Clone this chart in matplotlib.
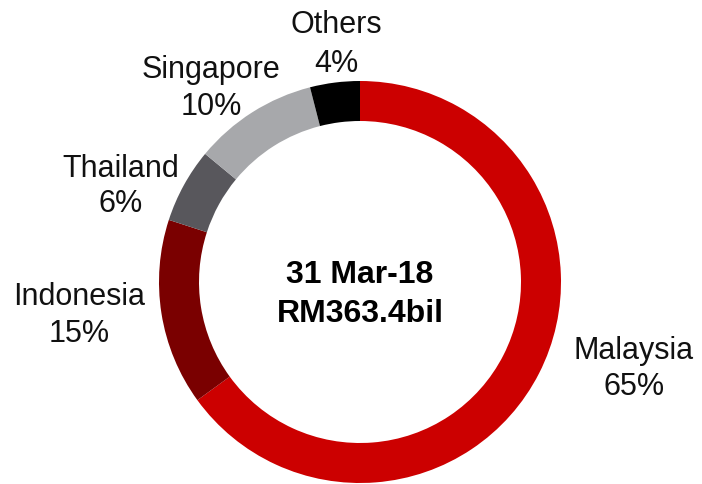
import matplotlib
matplotlib.use("Agg")
import matplotlib.pyplot as plt

countries = ["Malaysia", "Indonesia", "Thailand", "Singapore", "Others"]
shares = [65, 15, 6, 10, 4]
colors = ["#CC0000", "#7A0000", "#58575C", "#A7A8AB", "#000000"]
center_lines = ["31 Mar-18", "RM363.4bil"]

W, H = 702, 485
fig = plt.figure(figsize=(W / 100, H / 100), dpi=100)
ax = fig.add_axes([0, 0, 1, 1])
ax.set_xlim(0, W)
ax.set_ylim(H, 0)
ax.set_aspect("equal")
ax.axis("off")

cx, cy, R = 360, 283, 201
ax.pie(shares, colors=colors, startangle=-90, counterclock=True,
       center=(cx, cy), radius=R, frame=True,
       wedgeprops=dict(width=40, edgecolor="none"))
ax.set_xlim(0, W)
ax.set_ylim(H, 0)
ax.axis("off")

# label positions (pixel): name baseline, pct baseline, x center
label_pos = {
    "Others": (336, 33, 72),
    "Singapore": (211, 78, 115),
    "Thailand": (121, 177, 212),
    "Indonesia": (79, 305, 342),
    "Malaysia": (634, 359, 395),
}
font = ["Liberation Sans", "DejaVu Sans"]
for name, pct in zip(countries, shares):
    x, yb1, yb2 = label_pos[name]
    ax.text(x, yb1, name, ha="center", va="baseline", fontsize=22,
            family=font, color="#111111")
    ax.text(x, yb2, f"{pct}%", ha="center", va="baseline", fontsize=22,
            family=font, color="#111111")

ax.text(360, 283, center_lines[0], ha="center", va="baseline", fontsize=23,
        fontweight="bold", family=font, color="#000000")
ax.text(360, 322, center_lines[1], ha="center", va="baseline", fontsize=23,
        fontweight="bold", family=font, color="#000000")

fig.savefig("out.png", dpi=100)
